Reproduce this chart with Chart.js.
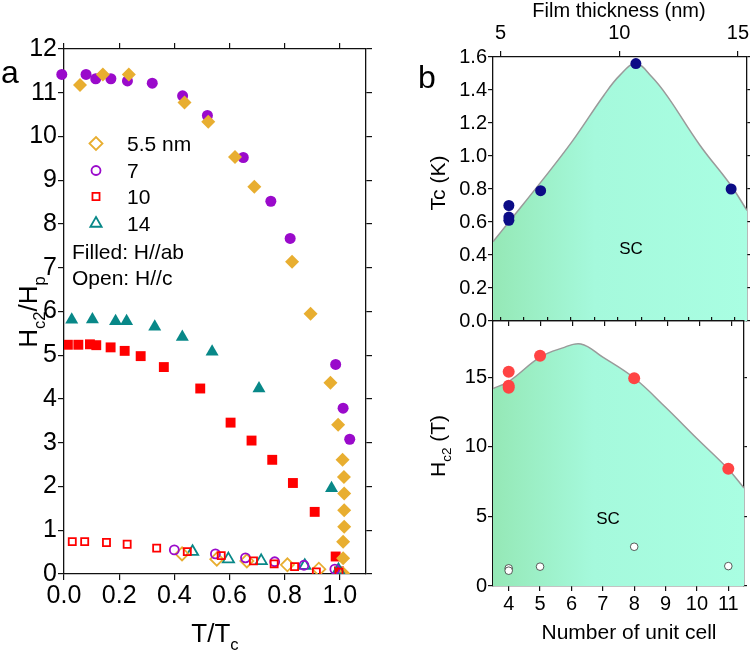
<!DOCTYPE html>
<html>
<head>
<meta charset="utf-8">
<title>Hc2/Hp vs T/Tc and thickness phase diagram</title>
<script src="https://cdn.jsdelivr.net/npm/chart.js@4.4.1/dist/chart.umd.min.js"></script>
<style>
  html, body { margin: 0; padding: 0; background: #fff; }
  #wrap { position: relative; width: 750px; height: 652px; overflow: hidden; }
  canvas { position: absolute; }
  #chart-a { left: 0; top: 0; }
  #chart-tc { left: 380px; top: 0; }
  #chart-hc { left: 380px; top: 300px; }
</style>
</head>
<body>
<div id="wrap">
  <canvas id="chart-a" width="380" height="652"></canvas>
  <canvas id="chart-tc" width="390" height="345"></canvas>
  <canvas id="chart-hc" width="370" height="352"></canvas>
</div>
<script>
// ---- panel a : Hc2/Hp vs T/Tc, filled = H//ab, open = H//c
const t55ab = [0.058, 0.141, 0.235, 0.437, 0.523, 0.62, 0.69, 0.827, 0.894, 0.966, 0.994, 1.01, 1.015, 1.016, 1.016, 1.016, 1.012, 1.012, 1.012];
const h55ab = [11.18, 11.42, 11.42, 10.78, 10.34, 9.53, 8.85, 7.14, 5.95, 4.37, 3.41, 2.61, 2.22, 1.84, 1.46, 1.08, 0.74, 0.36, 0.02];
const t7ab = [-0.008, 0.08, 0.115, 0.17, 0.23, 0.32, 0.43, 0.52, 0.65, 0.75, 0.82, 0.985, 1.012, 1.036];
const h7ab = [11.42, 11.42, 11.32, 11.32, 11.27, 11.22, 10.93, 10.48, 9.52, 8.52, 7.67, 4.79, 3.79, 3.08];
const t10ab = [0.014, 0.052, 0.094, 0.117, 0.169, 0.22, 0.278, 0.362, 0.494, 0.604, 0.68, 0.755, 0.83, 0.909, 0.985, 0.997];
const h10ab = [5.24, 5.24, 5.25, 5.23, 5.18, 5.10, 4.98, 4.73, 4.24, 3.46, 3.05, 2.61, 2.08, 1.42, 0.40, 0.06];
const t14ab = [0.028, 0.103, 0.187, 0.227, 0.329, 0.429, 0.537, 0.707, 0.97];
const h14ab = [5.81, 5.82, 5.78, 5.78, 5.65, 5.42, 5.08, 4.24, 1.96];

const t55c = [0.428, 0.554, 0.663, 0.81, 0.924];
const h55c = [0.46, 0.34, 0.30, 0.21, 0.11];
const t7c = [0.40, 0.549, 0.658, 0.764, 0.87, 0.982];
const h7c = [0.55, 0.46, 0.37, 0.28, 0.20, 0.11];
const t10c = [0.03, 0.075, 0.154, 0.229, 0.336, 0.447, 0.57, 0.687, 0.762, 0.836, 0.915, 0.997];
const h10c = [0.74, 0.74, 0.72, 0.68, 0.59, 0.51, 0.42, 0.30, 0.23, 0.17, 0.05, 0.04];
const t14c = [0.466, 0.596, 0.715, 0.873, 0.995];
const h14c = [0.51, 0.34, 0.30, 0.19, 0.09];

const legendLabels = ['5.5 nm', '7', '10', '14'];
const ratioTicks = [0, 0.2, 0.4, 0.6, 0.8, 1.0];
const fieldRatioTicks = [0, 1, 2, 3, 4, 5, 6, 7, 8, 9, 10, 11, 12];

// ---- panel b : Tc and Hc2 vs number of unit cells
const cellsTc = [4, 4, 4, 5, 8, 11];
const tcK = [0.70, 0.63, 0.61, 0.79, 1.56, 0.80];
const tcCurveN = [3.5, 4, 5, 6, 7, 7.5, 8, 8.5, 9, 10, 11, 11.5];
const tcCurve = [0.48, 0.60, 0.84, 1.09, 1.37, 1.49, 1.56, 1.48, 1.36, 1.07, 0.82, 0.67];

const cellsAb = [4, 4, 4, 5, 8, 11];
const hc2Ab = [15.4, 14.4, 14.25, 16.55, 14.93, 8.43];
const cellsC = [4, 4, 5, 8, 11];
const hc2C = [1.27, 1.10, 1.39, 2.82, 1.43];
const hcCurveN = [3.5, 4, 5, 5.7, 6.3, 7, 8, 9, 10, 11, 11.5];
const hcCurve = [14.2, 14.7, 16.45, 17.1, 17.4, 16.45, 14.95, 12.85, 10.6, 8.4, 7.05];

const cellTicks = [4, 5, 6, 7, 8, 9, 10, 11];
const filmTicks = [5, 10, 15];
const filmMinorTicks = [5, 6, 7, 8, 9, 10, 11, 12, 13, 14, 15];
const tcTicks = [0, 0.2, 0.4, 0.6, 0.8, 1.0, 1.2, 1.4, 1.6];
const hcTicks = [0, 5, 10, 15];

const FONT = "'Liberation Sans', Arial, sans-serif";
const ORANGE = '#E8AE30';
const PURPLE = '#9A0ACB';
const RED = '#FF0000';
const TEAL = '#088888';
const NAVY = '#0C0C86';
const RED_B = '#FF4444';
const INK = '#111111';

Chart.defaults.font.family = FONT;
Chart.defaults.color = '#000';

const pts = (xs, ys) => xs.map((x, i) => ({ x, y: ys[i] }));
const fixTicks = (values) => (scale) => { scale.ticks = values.map((value) => ({ value })); };

const drawMarker = (ctx, style, x, y, r) => {
  ctx.beginPath();
  if (style === 'circle') {
    ctx.arc(x, y, r, 0, Math.PI * 2);
  } else if (style === 'rect') {
    const s = r * Math.SQRT1_2;
    ctx.rect(x - s, y - s, 2 * s, 2 * s);
  } else if (style === 'rectRot') {
    ctx.moveTo(x - r, y);
    ctx.lineTo(x, y - r);
    ctx.lineTo(x + r, y);
    ctx.lineTo(x, y + r);
    ctx.closePath();
  } else {
    for (let k = 0; k < 3; k++) {
      const ang = k * 2 * Math.PI / 3;
      const px = x + Math.sin(ang) * r;
      const py = y - Math.cos(ang) * r;
      if (k === 0) ctx.moveTo(px, py); else ctx.lineTo(px, py);
    }
    ctx.closePath();
  }
};

const drawRich = (ctx, item) => {
  ctx.save();
  ctx.translate(item.x, item.y);
  if (item.rotate) ctx.rotate(item.rotate);
  ctx.fillStyle = '#000';
  ctx.textBaseline = 'alphabetic';
  ctx.textAlign = 'left';
  const segs = item.parts.map(([txt, sub]) => {
    const size = sub ? item.size * 0.64 : item.size;
    ctx.font = `${size}px ${FONT}`;
    return { txt, sub, size, w: ctx.measureText(txt).width };
  });
  const total = segs.reduce((acc, s) => acc + s.w, 0);
  let x = item.align === 'left' ? 0 : -total / 2;
  segs.forEach((s) => {
    ctx.font = `${s.size}px ${FONT}`;
    ctx.fillText(s.txt, x, s.sub ? item.size * 0.3 : 0);
    x += s.w;
  });
  ctx.restore();
};

const drawLegend = (ctx, items) => {
  const baselines = [151, 178, 204, 231];
  ctx.save();
  items.forEach((it, i) => {
    ctx.lineWidth = 1.8;
    ctx.strokeStyle = it.color;
    drawMarker(ctx, it.style, 96, baselines[i] - 7.5, it.r);
    ctx.stroke();
    ctx.fillStyle = '#000';
    ctx.font = `21px ${FONT}`;
    ctx.fillText(legendLabels[i], 127, baselines[i]);
  });
  ctx.font = `21px ${FONT}`;
  ctx.fillText('Filled: H//ab', 72, 259);
  ctx.fillText('Open: H//c', 72, 285);
  ctx.restore();
};

// free text and optional legend
const makeDecor = (texts, legend) => ({
  id: 'decor',
  afterDraw(chart) {
    texts.forEach((t) => drawRich(chart.ctx, t));
    if (legend) drawLegend(chart.ctx, legend);
  }
});

const scFill = (context) => {
  const { ctx, chartArea } = context.chart;
  if (!chartArea) return 'rgba(0,0,0,0)';
  const g = ctx.createLinearGradient(chartArea.left, 0, chartArea.right, 0);
  g.addColorStop(0, '#95E8B6');
  g.addColorStop(0.4, '#A5F9DC');
  g.addColorStop(1, '#A9FEE2');
  return g;
};

// axis line plus short tick marks, no grid inside the plot
const tickGrid = (len) => ({
  display: true, drawOnChartArea: false, drawTicks: true,
  tickLength: len, color: INK, lineWidth: 1.2
});
const edge = () => ({ display: true, color: INK, width: 1.3 });
const quiet = () => ({ legend: { display: false }, tooltip: { enabled: false } });

// an extra axis that only draws the frame side and its ticks
const mirror = (position, min, max, values, len) => ({
  type: 'linear', position, min, max,
  grid: tickGrid(len), border: edge(),
  afterBuildTicks: fixTicks(values),
  ticks: { display: false },
  afterFit: (scale) => {
    if (position === 'top' || position === 'bottom') scale.height = 0; else scale.width = 0;
  }
});

const filled = (data, style, r, color, extra) => Object.assign({
  data, pointStyle: style, pointRadius: r, pointHoverRadius: r,
  backgroundColor: color, borderColor: color, borderWidth: 0
}, extra || {});
const open = (data, style, r, color) => ({
  data, pointStyle: style, pointRadius: r, pointHoverRadius: r,
  backgroundColor: 'rgba(255,255,255,0)', borderColor: color, borderWidth: 1.8
});
const curve = (data, order) => ({
  data, showLine: true, fill: 'origin', tension: 0.4,
  pointRadius: 0, pointHoverRadius: 0, borderColor: '#9A9A9A', borderWidth: 1.5,
  backgroundColor: scFill, order
});

new Chart(document.querySelector('#chart-a'), {
  type: 'scatter',
  data: {
    datasets: [
      filled(pts(t55ab, h55ab), 'rectRot', 7, ORANGE, { order: 1 }),
      filled(pts(t7ab, h7ab), 'circle', 5.5, PURPLE, { order: 2, clip: false }),
      filled(pts(t10ab, h10ab), 'rect', 7, RED, { order: 3 }),
      filled(pts(t14ab, h14ab), 'triangle', 7.5, TEAL, { order: 4 }),
      open(pts(t10c, h10c), 'rect', 5, RED),
      open(pts(t7c, h7c), 'circle', 4.5, PURPLE),
      open(pts(t55c, h55c), 'rectRot', 6.5, ORANGE),
      open(pts(t14c, h14c), 'triangle', 6.5, TEAL)
    ]
  },
  options: {
    responsive: false,
    animation: false,
    layout: { padding: { top: 49, right: 14, left: 0, bottom: 0 } },
    scales: {
      x: {
        type: 'linear', min: 0, max: 1.095,
        grid: tickGrid(6), border: edge(),
        afterBuildTicks: fixTicks(ratioTicks),
        ticks: { autoSkip: false, maxRotation: 0, padding: 1,
          font: { size: 25 }, callback: (v) => v.toFixed(1) },
        afterFit: (scale) => { scale.height = 78; }
      },
      y: {
        type: 'linear', min: 0, max: 12,
        grid: tickGrid(6), border: edge(),
        afterBuildTicks: fixTicks(fieldRatioTicks),
        ticks: { autoSkip: false, padding: 1, font: { size: 25 } },
        afterFit: (scale) => { scale.width = 64; }
      },
      xTop: mirror('top', 0, 1.095, ratioTicks, 6),
      yRight: mirror('right', 0, 12, fieldRatioTicks, 6)
    },
    plugins: quiet()
  },
  plugins: [makeDecor(
    [
      { x: 1, y: 83, size: 32, align: 'left', parts: [['a']] },
      { x: 215, y: 642, size: 26, parts: [['T/T'], ['c', true]] },
      { x: 37, y: 312, size: 26, rotate: -Math.PI / 2, parts: [['H'], ['c2', true], ['/H'], ['p', true]] }
    ],
    [
      { style: 'rectRot', r: 6.5, color: ORANGE },
      { style: 'circle', r: 4.5, color: PURPLE },
      { style: 'rect', r: 5, color: RED },
      { style: 'triangle', r: 6.5, color: TEAL }
    ]
  )]
});

new Chart(document.querySelector('#chart-tc'), {
  type: 'scatter',
  data: {
    datasets: [
      curve(pts(tcCurveN, tcCurve), 2),
      filled(pts(cellsTc, tcK), 'circle', 5.5, NAVY, { order: 1 })
    ]
  },
  options: {
    responsive: false,
    animation: false,
    layout: { padding: { top: 0, right: 23, left: 0, bottom: 24 } },
    scales: {
      x: mirror('bottom', 3.5, 11.5, cellTicks, 5),
      x2: {
        type: 'linear', position: 'top', min: 4.68, max: 15.38,
        grid: tickGrid(6), border: edge(),
        afterBuildTicks: fixTicks(filmTicks),
        ticks: { autoSkip: false, maxRotation: 0, padding: 6, font: { size: 20 } },
        afterFit: (scale) => { scale.height = 57; }
      },
      y: {
        type: 'linear', min: 0, max: 1.6,
        grid: tickGrid(5), border: edge(),
        afterBuildTicks: fixTicks(tcTicks),
        ticks: { autoSkip: false, padding: 1, font: { size: 20 }, callback: (v) => v.toFixed(1) },
        afterFit: (scale) => { scale.width = 113; }
      },
      yRight: mirror('right', 0, 1.6, tcTicks, 3)
    },
    plugins: quiet()
  },
  plugins: [makeDecor([
    { x: 239, y: 17, size: 20, parts: [['Film thickness (nm)']] },
    { x: 38, y: 88, size: 32, align: 'left', parts: [['b']] },
    { x: 65, y: 183, size: 21, rotate: -Math.PI / 2, parts: [['Tc (K)']] },
    { x: 251, y: 254, size: 17, parts: [['SC']] }
  ])]
});

new Chart(document.querySelector('#chart-hc'), {
  type: 'scatter',
  data: {
    datasets: [
      curve(pts(hcCurveN, hcCurve), 3),
      filled(pts(cellsAb, hc2Ab), 'circle', 6, RED_B, { order: 1 }),
      {
        data: pts(cellsC, hc2C), pointStyle: 'circle', pointRadius: 3.8, pointHoverRadius: 3.8,
        backgroundColor: '#FFFFFF', borderColor: '#333', borderWidth: 0.8, order: 2
      }
    ]
  },
  options: {
    responsive: false,
    animation: false,
    layout: { padding: { top: 21, right: 3, left: 0, bottom: 0 } },
    scales: {
      x: {
        type: 'linear', min: 3.5, max: 11.5,
        grid: tickGrid(5), border: edge(),
        afterBuildTicks: fixTicks(cellTicks),
        ticks: { autoSkip: false, maxRotation: 0, padding: 1, font: { size: 20 } },
        afterFit: (scale) => { scale.height = 66; }
      },
      x2: mirror('top', 4.68, 15.38, filmMinorTicks, 4),
      y: {
        type: 'linear', min: 0, max: 19.05,
        grid: tickGrid(5), border: edge(),
        afterBuildTicks: fixTicks(hcTicks),
        ticks: { autoSkip: false, padding: 1, font: { size: 20 } },
        afterFit: (scale) => { scale.width = 113; }
      },
      yRight: mirror('right', 0, 19.05, hcTicks, 3)
    },
    plugins: quiet()
  },
  plugins: [makeDecor([
    { x: 249, y: 339, size: 21, parts: [['Number of unit cell']] },
    { x: 65, y: 146, size: 21, rotate: -Math.PI / 2, parts: [['H'], ['c2', true], [' (T)']] },
    { x: 228, y: 224, size: 17, parts: [['SC']] }
  ])]
});
</script>
</body>
</html>
